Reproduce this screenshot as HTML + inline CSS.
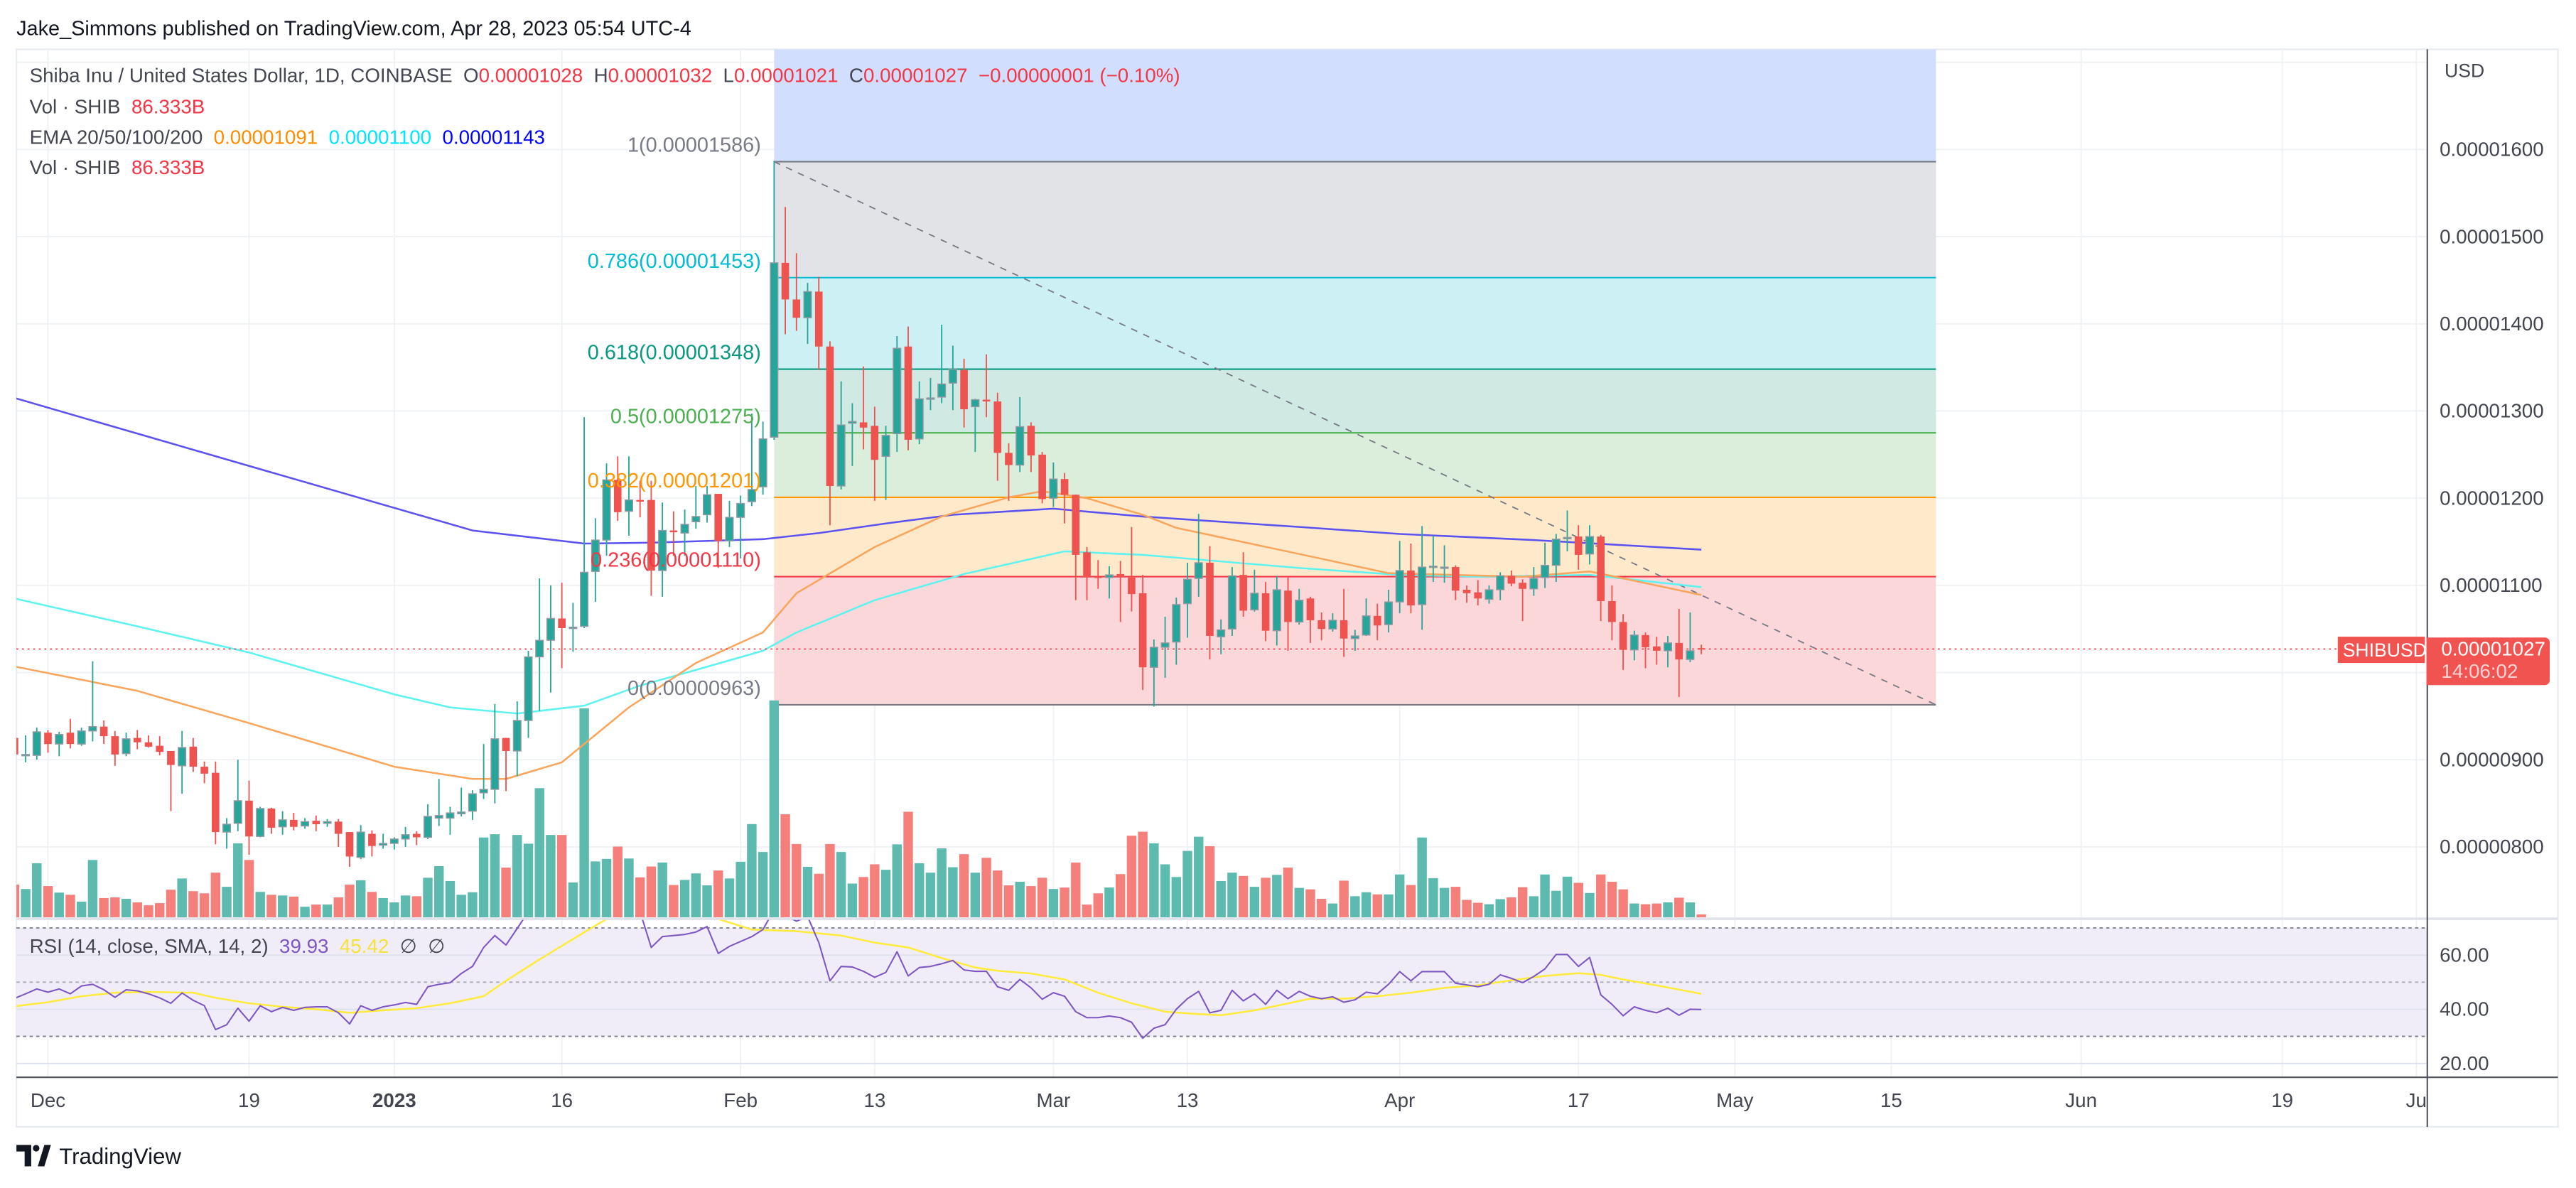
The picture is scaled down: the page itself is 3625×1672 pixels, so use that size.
<!DOCTYPE html>
<html><head><meta charset="utf-8"><style>
html,body{margin:0;padding:0;background:#fff;}
svg{display:block;font-family:"Liberation Sans",sans-serif;}
svg text{white-space:pre;}
</style></head><body>
<svg id="c" xmlns="http://www.w3.org/2000/svg" width="3625" height="1672" viewBox="0 0 1568 723.2">
<rect x="0" y="0" width="1568" height="723.2" fill="#fff"/>
<text x="10" y="21.5" font-size="12.5" fill="#131722">Jake_Simmons published on TradingView.com, Apr 28, 2023 05:54 UTC-4</text>
<rect x="10" y="30" width="1547" height="656" fill="none" stroke="#e8ebf2" stroke-width="1"/>
<defs>
<clipPath id="pclip"><rect x="10" y="30" width="1467" height="528.5"/></clipPath>
<clipPath id="rclip"><rect x="10" y="560" width="1467" height="95.5"/></clipPath>
</defs>
<g id="grid"></g>
<g id="fib" clip-path="url(#pclip)"></g>
<g id="vol" clip-path="url(#pclip)"></g>
<g id="ema" clip-path="url(#pclip)"></g>
<g id="candles" clip-path="url(#pclip)"></g>
<g id="rsi"></g>
<g id="axes"></g>
<g font-size="12">
<text x="18" y="50" fill="#434651">Shiba Inu / United States Dollar, 1D, COINBASE  O<tspan fill="#f23645">0.00001028</tspan>  H<tspan fill="#f23645">0.00001032</tspan>  L<tspan fill="#f23645">0.00001021</tspan>  C<tspan fill="#f23645">0.00001027</tspan>  <tspan fill="#f23645">−0.00000001 (−0.10%)</tspan></text>
<text x="18" y="69" fill="#434651">Vol · SHIB  <tspan fill="#f23645">86.333B</tspan></text>
<text x="18" y="87.5" fill="#434651">EMA 20/50/100/200  <tspan fill="#ff8c00">0.00001091</tspan>  <tspan fill="#00e5ff">0.00001100</tspan>  <tspan fill="#0000ff">0.00001143</tspan></text>
<text x="18" y="106" fill="#434651">Vol · SHIB  <tspan fill="#f23645">86.333B</tspan></text>
<text x="18" y="580" fill="#434651">RSI (14, close, SMA, 14, 2)  <tspan fill="#7e57c2">39.93</tspan>  <tspan fill="#f5e23a">45.42</tspan>  ∅  ∅</text>
</g>
<g>
<path d="M10 697 h9 v13 h-4 v-9 h-5 z" fill="#131722"/>
<circle cx="22" cy="699" r="2" fill="#131722"/>
<path d="M23 710 l4 -13 h4 l-4 13 z" fill="#131722"/>
<text x="36" y="708.5" font-size="13.5" fill="#131722">TradingView</text>
</g>
</svg>
<script>
// ---------- data ----------
const firstDay = -34; // Nov 28, 2022 (day 0 = Jan 1, 2023)
const opens  = [925,905,905,931,918,931,918,933,938,927,907,925,920,916,910,893,915,892,885,817,827,853,812,844,823,831,824,830,827,829,817,788,815,802,804,809,815,811,833,833,838,841,862,866,925,910,945,1018,1037,1062,1051,1053,1116,1152,1221,1185,1198,1198,1117,1163,1160,1173,1181,1205,1151,1178,1196,1213,1270,1470,1428,1407,1437,1374,1214,1286,1287,1283,1248,1274,1374,1268,1315,1316,1332,1347,1305,1313,1311,1252,1238,1283,1250,1200,1222,1204,1138,1110,1109,1113,1109,1091,1006,1029,1035,1079,1108,1126,1041,1050,1112,1072,1091,1048,1094,1058,1085,1060,1050,1060,1039,1043,1065,1055,1081,1117,1078,1121,1121,1121,1095,1092,1084,1095,1111,1103,1096,1109,1123,1154,1156,1136,1156,1082,1058,1026,1043,1030,1025,1034,1015,1028];
const highs  = [925,928,937,934,932,947,937,1013,945,933,931,934,928,927,910,933,925,898,898,833,900,876,846,845,841,839,833,836,832,832,817,825,819,815,811,823,818,849,878,846,868,865,918,964,925,967,1025,1108,1100,1103,1080,1293,1177,1240,1248,1248,1220,1220,1195,1185,1187,1214,1214,1205,1197,1203,1297,1288,1587,1534,1481,1447,1454,1380,1334,1309,1351,1305,1283,1386,1397,1334,1338,1399,1375,1360,1314,1365,1321,1263,1316,1287,1253,1241,1229,1204,1144,1129,1122,1128,1167,1112,1038,1064,1086,1126,1182,1145,1061,1121,1138,1118,1104,1111,1109,1096,1087,1069,1068,1096,1049,1085,1079,1095,1151,1148,1168,1157,1146,1123,1100,1106,1100,1115,1117,1107,1121,1149,1159,1186,1169,1169,1158,1100,1067,1048,1046,1041,1042,1073,1069,1032];
const lows   = [906,897,900,908,904,913,916,921,918,893,904,912,914,905,841,861,886,873,803,798,818,791,811,815,814,819,821,818,823,800,777,786,789,798,797,800,802,809,824,814,835,831,855,850,864,881,925,956,977,1005,1024,1051,1081,1134,1174,1157,1178,1088,1087,1134,1134,1165,1172,1120,1144,1131,1191,1204,1267,1388,1392,1377,1347,1169,1210,1237,1256,1197,1198,1253,1255,1262,1301,1309,1301,1281,1253,1293,1220,1197,1230,1230,1194,1190,1171,1083,1083,1096,1085,1058,1070,980,961,994,1009,1040,1087,1015,1021,1042,1064,1070,1036,1031,1025,1055,1034,1037,1047,1018,1025,1042,1037,1046,1068,1068,1049,1104,1103,1083,1080,1077,1079,1083,1099,1059,1088,1097,1104,1139,1118,1124,1059,1037,1003,1014,1005,1009,1006,972,1012,1021];
const closes = [906,906,932,918,929,918,933,938,927,906,924,920,915,909,894,914,892,884,817,826,853,812,844,822,831,823,829,826,829,815,789,817,801,804,809,814,811,835,836,839,840,861,866,924,910,945,1018,1037,1062,1051,1052,1115,1152,1221,1184,1198,1196,1117,1163,1161,1170,1179,1204,1151,1178,1194,1210,1268,1470,1428,1407,1437,1374,1214,1284,1288,1281,1244,1272,1372,1267,1314,1315,1331,1348,1302,1313,1311,1252,1238,1282,1249,1199,1222,1204,1135,1109,1109,1112,1109,1090,1006,1029,1034,1078,1107,1126,1042,1049,1111,1071,1091,1048,1095,1058,1083,1060,1050,1060,1039,1042,1065,1054,1081,1117,1077,1121,1122,1121,1094,1091,1085,1095,1111,1102,1096,1108,1123,1153,1155,1135,1156,1082,1058,1026,1043,1029,1025,1034,1015,1025,1027];
const volumes = [90,78,149,86,68,62,43,158,53,55,51,41,33,39,76,107,72,66,123,84,204,158,70,62,60,57,29,35,35,55,90,102,70,53,41,60,58,109,141,100,62,69,220,229,137,227,203,356,227,227,96,576,154,161,195,162,110,140,151,89,103,121,88,129,107,153,257,180,598,284,202,139,120,202,180,93,111,146,131,201,291,149,123,190,138,174,123,164,129,88,98,86,109,78,82,151,35,66,82,119,225,236,204,146,111,183,222,196,100,123,114,84,109,117,137,81,77,51,38,101,58,69,63,63,118,89,220,108,81,84,48,40,36,50,55,83,58,118,73,112,95,67,118,98,77,38,36,38,41,54,41,8];
const rsiVals = [44.0,45.7,47.5,46.3,47.5,45.7,48.6,49.2,47.2,44.4,47.2,46.8,45.7,44.2,42.2,46.0,43.3,41.3,32.5,34.3,40.4,35.6,41.3,39.1,40.7,39.6,40.7,40.9,40.9,38.7,34.6,41.3,39.6,40.9,41.6,42.5,41.8,48.3,49.2,49.8,53.2,55.8,62.8,67.2,63.7,69.8,76,79,80,81,78,80,86,83,84,80,76,62.8,66.8,67.2,67.6,68.5,70.5,60.6,63.2,65,66.8,69.4,76.8,74.6,72.5,74.2,64.6,50.5,55.8,55.6,54,51.8,53.6,61.2,52.3,55.4,55.8,56.8,58,54.5,54,54,48.3,47,51,47.9,43.7,46.1,44.8,39.1,36.9,36.9,37.5,36.9,35.2,29.3,33,34.3,40,43.9,46.6,38.7,39.6,47,43.1,45.7,41.8,47,43.9,46.6,44.8,43.9,44.6,42.6,43.5,46.3,45.7,49.2,53.9,50.5,53.9,53.9,53.9,49.6,49,48.3,49.2,52.7,51.4,49.8,52.1,54.9,60.2,60.2,55.8,59.1,45.3,41.8,37.6,40.9,39.6,38.7,40.4,37.8,40,39.9];
const smaDays = [-34,-31,-28,-25,-22,-18,-16,-13,-10,-7,-4,-1,2,5,8,10,13,16,19,23,26,29,32,36,40,43,46,49,52,54,57,60,63,66,69,72,74,77,79,82,85,88,91,94,97,100,103,106,108,110,113,117];
const smaVals = [41.1,42.6,44.8,46.1,46.4,46.1,44.2,42.2,40.9,40,38.7,39.6,40.4,42.2,44.8,50.5,58.4,65.9,73.3,78,77,73.3,69.4,68.8,67.2,64.6,62.8,58.9,55.4,54.2,53.2,51,46.1,42.2,39.1,38.2,37.8,39.6,41.3,43.9,43.9,44.8,46.1,47.9,48.8,50.7,52.3,53.3,52.7,51,48.8,45.7];
const ema200Days = [-34,-13,7,17,23,33,38,44,50,59,67,81,90,102,117];
const ema200Vals = [1315,1237,1163,1148,1149,1153,1160,1171,1181,1188,1179,1167,1159,1152,1141];
const ema100Days = [-34,-23,-13,0,5,11,17,22,27,33,36,43,51,60,67,81,90,97,107,117];
const ema100Vals = [1085,1053,1023,975,960,953,962,985,1003,1025,1046,1083,1113,1139,1135,1120,1112,1110,1112,1098];
const ema50Days = [-34,-23,-13,0,7,10,15,21,27,33,36,43,49,55,58,62,67,70,81,89,101,107,110,117];
const ema50Vals = [1007,979,942,892,878,878,897,960,1011,1046,1091,1144,1179,1201,1208,1200,1181,1166,1136,1114,1110,1116,1108,1089];
const fibRatios = [1,0.786,0.618,0.5,0.382,0.236,0];
const fibPrices = [1586,1453,1348,1275,1201,1110,963];
const fibStartDay = 34, fibEndDay = 138;
const priceTicks = [1700,1600,1500,1400,1300,1200,1100,1000,900,800];
const priceTickLabels = ["","0.00001600","0.00001500","0.00001400","0.00001300","0.00001200","0.00001100","","0.00000900","0.00000800"];
const rsiTicks = [60,40,20];
const rsiTickLabels = ["60.00","40.00","20.00"];
const timeTickDays = [-31,-13,0,15,31,43,59,71,90,106,120,134,151,169,181];
const timeTickLabels = ["Dec","19","2023","16","Feb","13","Mar","13","Apr","17","May","15","Jun","19","Ju"];
const lastPrice = 1027;

// ---------- scales ----------
const X0 = 240, DX = 6.8;
function xDay(d){ return X0 + d*DX; }
function yP(p){ return 91 + (1600 - p)*0.5307; }
function yR(r){ return 564.9 + (70 - r)*1.65; }
function yV(v){ return 558.4 - v/4.53; }
const NS = "http://www.w3.org/2000/svg";
function mk(tag, attrs, parent){ const e=document.createElementNS(NS,tag); for(const k in attrs) e.setAttribute(k,attrs[k]); parent.appendChild(e); return e; }
const G = id => document.getElementById(id);

// ---------- grid ----------
const gridG = G('grid');
priceTicks.forEach(p=>{
  const l = mk('line',{x1:10,x2:1477,y1:yP(p),y2:yP(p),stroke:'#eef1f6','stroke-width':0.8},gridG);
  
  
});
timeTickDays.forEach(d=>{
  const l = mk('line',{x1:xDay(d),x2:xDay(d),y1:30,y2:655.5,stroke:'#eef1f6','stroke-width':0.8},gridG);
  
  
});

// ---------- fib ----------
const fibG = G('fib');
const fx1 = xDay(fibStartDay), fx2 = xDay(fibEndDay);
const zoneColors = ['#e2e3e7','#cdf0f4','#d0e9e3','#dbeedc','#feeacb','#fbd7da'];
const lineColors = ['#787b86','#00bcd4','#089981','#4caf50','#ff9800','#f23645','#787b86'];
const fibTop = mk('rect',{x:fx1,y:30,width:fx2-fx1,height:yP(fibPrices[0])-30,fill:'#d2defd'},fibG);


for(let i=0;i<fibPrices.length-1;i++){
  const r = mk('rect',{x:fx1,y:yP(fibPrices[i]),width:fx2-fx1,height:yP(fibPrices[i+1])-yP(fibPrices[i]),fill:zoneColors[i]},fibG);
  
  
}
fibPrices.forEach((p,i)=>{
  const l = mk('line',{x1:fx1,x2:fx2,y1:yP(p),y2:yP(p),stroke:lineColors[i],'stroke-width':0.9},fibG);
  
  
});
const trendLine = mk('line',{x1:fx1,y1:yP(fibPrices[0]),x2:fx2,y2:yP(fibPrices[fibPrices.length-1]),stroke:'#787b86','stroke-width':0.8,'stroke-dasharray':'4 4'},fibG);



// ---------- volume ----------
const volG = G('vol');
volumes.forEach((v,i)=>{
  const d = firstDay+i, up = closes[i]>=opens[i];
  const r = mk('rect',{x:xDay(d)-2.9,y:yV(v),width:5.8,height:558.4-yV(v),fill:up?'#5cbaaf':'#f47f7b'},volG);
  
  
});

// ---------- EMA ----------
const emaG = G('ema');
function poly(days, vals, fy, color, w, parent, name){
  const pts = days.map((d,i)=>xDay(d).toFixed(2)+','+fy(vals[i]).toFixed(2)).join(' ');
  const p = mk('polyline',{points:pts,fill:'none',stroke:color,'stroke-width':w,'stroke-linejoin':'round'},parent);
  
  
}
poly(ema200Days, ema200Vals, yP, '#5b52f0', 1.1, emaG, 'ema-200-line');
poly(ema100Days, ema100Vals, yP, '#5ff3f0', 1.1, emaG, 'ema-100-line');
poly(ema50Days, ema50Vals, yP, '#f9a55b', 1.1, emaG, 'ema-50-line');

const cpl = mk('line',{x1:10,x2:1477,y1:yP(lastPrice),y2:yP(lastPrice),stroke:'#f23645','stroke-width':0.7,'stroke-dasharray':'1.2 2.2'},emaG);



// ---------- candles ----------
const candleG = G('candles');
opens.forEach((o,i)=>{
  const d = firstDay+i, c = closes[i], up = c>=o;
  const col = up?'#26a69a':'#ef5350';
  const x = xDay(d);
  const w = mk('line',{x1:x,x2:x,y1:yP(highs[i]),y2:yP(lows[i]),stroke:col,'stroke-width':0.8},candleG);
  
  
  const yt = yP(Math.max(o,c)), yb = yP(Math.min(o,c));
  const b = mk('rect',{x:x-2.3,y:yt,width:4.6,height:Math.max(yb-yt,0.8),fill:col},candleG);
  if(up){ b.setAttribute('stroke','#9598a1'); b.setAttribute('stroke-width','0.6'); }
  
  
});

// ---------- RSI pane ----------
const rsiG = G('rsi');
const sep = mk('line',{x1:10,x2:1557,y1:559.3,y2:559.3,stroke:'#e0e3eb','stroke-width':1.6},rsiG);


const band = mk('rect',{x:10,y:yR(70),width:1467,height:yR(30)-yR(70),fill:'#f0edf9'},rsiG);


rsiTicks.forEach(t=>{
  const l = mk('line',{x1:10,x2:1477,y1:yR(t),y2:yR(t),stroke:'#dde1ee','stroke-width':0.8},rsiG);
  
  
});
[[70,'#787b86'],[50,'#a9acb5'],[30,'#787b86']].forEach(a=>{
  const l = mk('line',{x1:10,x2:1477,y1:yR(a[0]),y2:yR(a[0]),stroke:a[1],'stroke-width':0.8,'stroke-dasharray':'2 2'},rsiG);
  
  
});
const rsiClip = mk('g',{'clip-path':'url(#rclip)'},rsiG);


poly(smaDays, smaVals, yR, '#ffeb3b', 1.1, rsiClip, 'rsi-sma-line');
poly(rsiVals.map((v,i)=>firstDay+i), rsiVals, yR, '#7e57c2', 0.9, rsiClip, 'rsi-line');

// ---------- axes ----------
const axG = G('axes');
const ra = mk('line',{x1:1477.5,x2:1477.5,y1:30,y2:686,stroke:'#50535e','stroke-width':0.9},axG);


const ta = mk('line',{x1:10,x2:1557,y1:655.8,y2:655.8,stroke:'#50535e','stroke-width':0.9},axG);


const usd = mk('text',{x:1488,y:47,'font-size':11.5,fill:'#434651'},axG);
usd.textContent='USD';


priceTicks.forEach((p,i)=>{
  if(!priceTickLabels[i]) return;
  const t = mk('text',{x:1485,y:yP(p)+4,'font-size':12,fill:'#434651'},axG);
  t.textContent = priceTickLabels[i];
  
  
});
rsiTicks.forEach((r,i)=>{
  const t = mk('text',{x:1485,y:yR(r)+4,'font-size':12,fill:'#434651'},axG);
  t.textContent = rsiTickLabels[i];
  
  
});
timeTickDays.forEach((d,i)=>{
  const t = mk('text',{x:xDay(d),y:674,'font-size':12,fill:'#434651','text-anchor':'middle','font-weight':timeTickLabels[i]==='2023'?'bold':'normal'},axG);
  t.textContent = timeTickLabels[i];
  
  
});
const fibLabels = mk('g',{'font-size':12.5},axG);


fibPrices.forEach((p,i)=>{
  const t = mk('text',{x:fx1-8,y:yP(p)-6,'text-anchor':'end',fill:lineColors[i]},fibLabels);
  t.textContent = fibRatios[i]+'(0.0000'+(p<1000?'0':'')+p+')';
  
  
});
const lpy = yP(lastPrice);
const symTag = mk('rect',{x:1423,y:lpy-7.5,width:53,height:16,fill:'#f05350'},axG);


const symTagText = mk('text',{x:1426,y:lpy+4.5,'font-size':11.5,fill:'#fff'},axG);
symTagText.textContent='SHIBUSD';


const priceBox = mk('path',{d:`M1477 ${lpy-7} h72 a3 3 0 0 1 3 3 v23 a3 3 0 0 1 -3 3 h-72 z`,fill:'#f05350'},axG);


const priceText = mk('text',{x:1486,y:lpy+4,'font-size':12,fill:'#fff'},axG);
priceText.textContent='0.00001027';


const countdown = mk('text',{x:1486,y:lpy+17.5,'font-size':12,fill:'#fcd3d3'},axG);
countdown.textContent='14:06:02';


</script>
</body></html>
